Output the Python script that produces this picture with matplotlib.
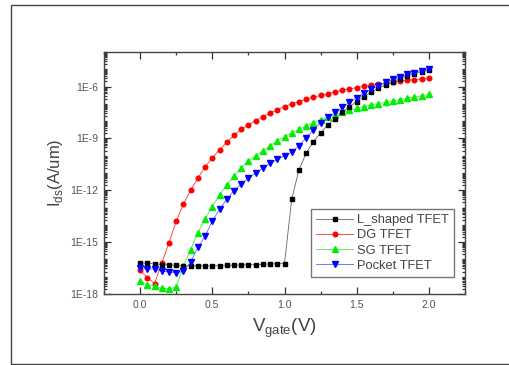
import matplotlib
matplotlib.use("Agg")
import matplotlib.pyplot as plt
import numpy as np
from matplotlib.ticker import LogLocator, FixedLocator, FixedFormatter, MultipleLocator, NullFormatter
from matplotlib.patches import Rectangle

plt.rcParams['font.family'] = ['Liberation Sans', 'DejaVu Sans']

v_gate = [0.00, 0.05, 0.10, 0.15, 0.20, 0.25, 0.30, 0.35, 0.40, 0.45,
          0.50, 0.55, 0.60, 0.65, 0.70, 0.75, 0.80, 0.85, 0.90, 0.95,
          1.00, 1.05, 1.10, 1.15, 1.20, 1.25, 1.30, 1.35, 1.40, 1.45,
          1.50, 1.55, 1.60, 1.65, 1.70, 1.75, 1.80, 1.85, 1.90, 1.95, 2.00]

l_shaped = [6.3e-17, 6.0e-17, 5.6e-17, 5.0e-17, 4.8e-17, 4.5e-17, 4.2e-17, 4.2e-17, 4.2e-17, 4.2e-17,
            4.2e-17, 4.3e-17, 4.5e-17, 4.7e-17, 4.8e-17, 4.9e-17, 5.0e-17, 5.2e-17, 5.5e-17, 5.6e-17,
            5.8e-17, 3.1e-13, 1.5e-11, 1.4e-10, 6.5e-10, 2.1e-9, 6.0e-9, 1.4e-8, 3.3e-8, 6.9e-8,
            1.35e-7, 2.6e-7, 4.7e-7, 8.1e-7, 1.26e-6, 1.95e-6, 2.8e-6, 4.2e-6, 5.6e-6, 7.4e-6, 8.9e-6]

dg = [2.3e-17, 8.9e-18, 4.0e-18, 6.0e-17, 9.5e-16, 1.6e-14, 1.6e-13, 1.0e-12, 5.1e-12, 2.3e-11,
      7.6e-11, 2.2e-10, 5.9e-10, 1.5e-9, 3.4e-9, 6.0e-9, 1.07e-8, 1.8e-8, 3.0e-8, 4.6e-8,
      6.9e-8, 9.9e-8, 1.35e-7, 1.85e-7, 2.4e-7, 3.1e-7, 3.9e-7, 4.9e-7, 6.1e-7, 7.3e-7,
      8.8e-7, 1.04e-6, 1.2e-6, 1.36e-6, 1.56e-6, 1.78e-6, 2.04e-6, 2.33e-6, 2.55e-6, 2.78e-6, 3.2e-6]

sg = [5.6e-18, 3.5e-18, 2.8e-18, 2.2e-18, 1.95e-18, 2.6e-18, 4.0e-17, 3.7e-16, 3.4e-15, 2.3e-14,
      1.1e-13, 5.5e-13, 2.0e-12, 6.6e-12, 2.0e-11, 4.7e-11, 1.0e-10, 2.0e-10, 3.8e-10, 7.1e-10,
      1.26e-9, 2.1e-9, 3.4e-9, 5.2e-9, 8.1e-9, 1.23e-8, 1.74e-8, 2.4e-8, 3.2e-8, 4.3e-8,
      5.5e-8, 6.9e-8, 8.7e-8, 1.03e-7, 1.23e-7, 1.48e-7, 1.78e-7, 2.1e-7, 2.5e-7, 2.9e-7, 3.5e-7]

pocket = [3.4e-17, 2.8e-17, 2.8e-17, 2.1e-17, 1.9e-17, 1.65e-17, 2.1e-17, 7.0e-17, 4.9e-16, 2.2e-15,
          1.7e-14, 7.8e-14, 3.0e-13, 9.3e-13, 2.3e-12, 4.9e-12, 1.0e-11, 1.9e-11, 3.6e-11, 6.2e-11,
          1.0e-10, 1.6e-10, 3.8e-10, 1.1e-9, 3.2e-9, 7.8e-9, 1.66e-8, 3.2e-8, 6.3e-8, 1.23e-7,
          2.3e-7, 4.1e-7, 7.1e-7, 1.15e-6, 1.8e-6, 2.6e-6, 3.6e-6, 5.0e-6, 6.5e-6, 8.5e-6, 1.1e-5]

labels = ['L_shaped TFET', 'DG TFET', 'SG TFET', 'Pocket TFET']
ytick_vals = [1e-18, 1e-15, 1e-12, 1e-9, 1e-6]
ytick_labels = ['1E-18', '1E-15', '1E-12', '1E-9', '1E-6']
xtick_vals = [0.0, 0.5, 1.0, 1.5, 2.0]
xtick_labels = ['0.0', '0.5', '1.0', '1.5', '2.0']

fig = plt.figure(figsize=(5.10, 3.65), dpi=100)
fig.patches.append(Rectangle((11/510, 1/365), 1.2, 359/365, transform=fig.transFigure,
                             fill=False, edgecolor='#444444', lw=1.0, clip_on=False))

ax = fig.add_axes([104/510, 1 - 294/365, 361/510, 242/365])

ms = 3.3
h_dg, = ax.plot(v_gate, dg, '-', color='#ff3030', lw=0.6, marker='o', mfc='#ff0000',
                mec='#ff0000', ms=ms, zorder=2)
h_sg, = ax.plot(v_gate, sg, '-', color='#40ee40', lw=0.6, marker='^', mfc='#00ee00',
                mec='#00ee00', ms=ms + 0.4, zorder=3)
h_l, = ax.plot(v_gate, l_shaped, '-', color='#666666', lw=0.6, marker='s', mfc='#000000',
               mec='#000000', ms=ms - 0.4, zorder=4)
h_p, = ax.plot(v_gate, pocket, '-', color='#6060ff', lw=0.6, marker='v', mfc='#0000ff',
               mec='#0000ff', ms=ms + 0.4, zorder=5)

ax.set_yscale('log')
ax.set_xlim(-0.25, 2.25)
ax.set_ylim(1e-18, 1e-4)

ax.yaxis.set_major_locator(FixedLocator(ytick_vals))
ax.yaxis.set_major_formatter(FixedFormatter(ytick_labels))
ax.yaxis.set_minor_locator(LogLocator(base=10, subs=np.arange(1, 10), numticks=100))
ax.yaxis.set_minor_formatter(NullFormatter())
ax.xaxis.set_major_locator(FixedLocator(xtick_vals))
ax.xaxis.set_major_formatter(FixedFormatter(xtick_labels))
ax.xaxis.set_minor_locator(MultipleLocator(0.25))

ax.tick_params(which='both', direction='in', top=True, right=True, colors='#333333',
               labelcolor='#555555', labelsize=7.5, width=0.9)
ax.tick_params(which='major', length=5, pad=4)
ax.tick_params(which='minor', length=2.5)
for s in ax.spines.values():
    s.set_color('#444444')
    s.set_linewidth(1.0)

ax.set_xlabel(r'V$_{\mathregular{gate}}$(V)', fontsize=13.5, color='#444444', labelpad=5)
ax.set_ylabel(r'I$_{\mathregular{ds}}$(A/um)', fontsize=12, color='#444444', labelpad=4)

leg = ax.legend([h_l, h_dg, h_sg, h_p], labels, loc='lower left',
                bbox_to_anchor=(0.573, 0.07), borderaxespad=0, fancybox=False,
                framealpha=1, edgecolor='#777777', fontsize=9.3, handlelength=2.9,
                handletextpad=0.3, labelspacing=0.25, borderpad=0.4, markerscale=1.0)
leg.get_frame().set_linewidth(1.0)
for t in leg.get_texts():
    t.set_color('#444444')

fig.savefig('out.png', dpi=100)
